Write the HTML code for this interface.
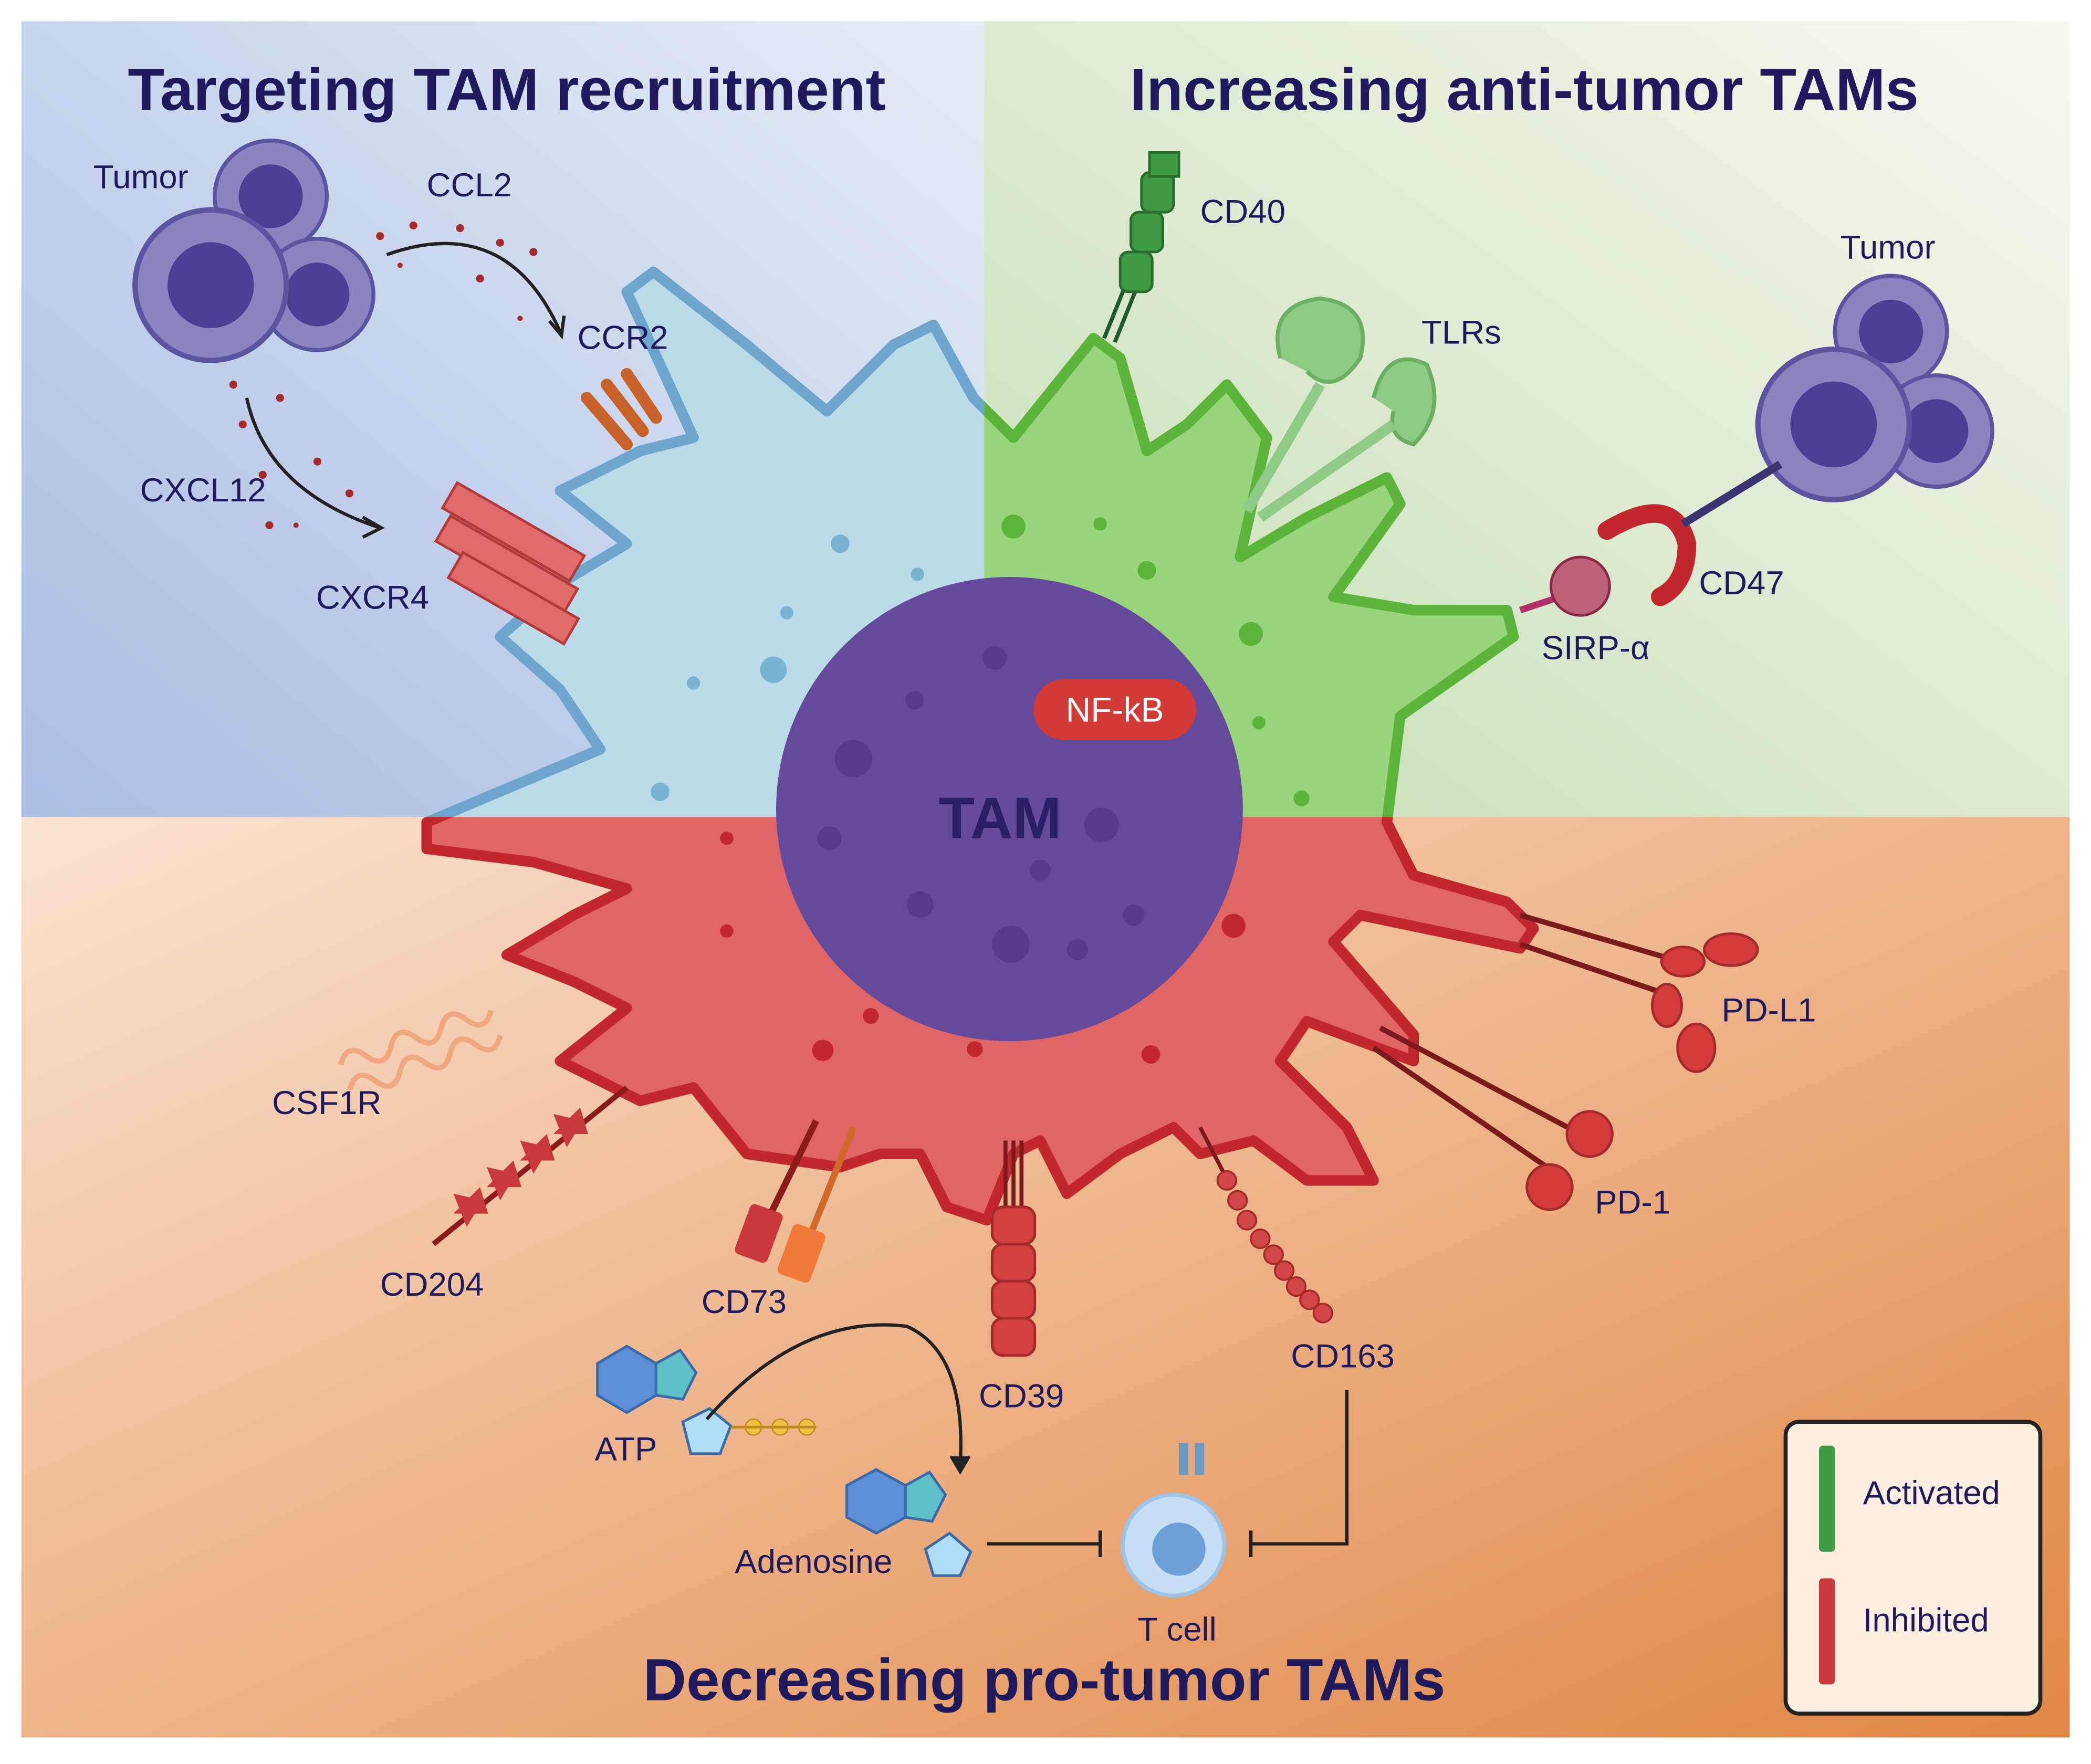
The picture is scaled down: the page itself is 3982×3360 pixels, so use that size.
<!DOCTYPE html>
<html><head><meta charset="utf-8"><style>
html,body{margin:0;padding:0;background:#fff}
svg{display:block}
text{font-family:"Liberation Sans",sans-serif}
</style></head><body>
<svg width="3982" height="3360" viewBox="0 0 1568 1330" preserveAspectRatio="none" xmlns="http://www.w3.org/2000/svg">
<defs>
<linearGradient id="gb" x1="0" y1="1" x2="1" y2="0"><stop offset="0" stop-color="#a9bde2"/><stop offset="1" stop-color="#e6ecf6"/></linearGradient>
<linearGradient id="gg" x1="0" y1="1" x2="1" y2="0"><stop offset="0" stop-color="#c6deb4"/><stop offset="1" stop-color="#f5f8f0"/></linearGradient>
<linearGradient id="go" x1="0" y1="0" x2="1" y2="1"><stop offset="0" stop-color="#f9e3d2"/><stop offset="0.5" stop-color="#eeb48a"/><stop offset="1" stop-color="#e08745"/></linearGradient>
<clipPath id="cb"><rect x="0" y="0" width="738" height="617"/></clipPath>
<clipPath id="cg"><rect x="738" y="0" width="900" height="617"/></clipPath>
<clipPath id="cr"><rect x="0" y="616" width="1600" height="800"/></clipPath>
<path id="cell" d="M320,620 L450,565 L420,520 L375,480 L420,440 L470,410 L420,370 L480,340 L520,330 L470,220 L490,205 L560,260 L620,310 L670,260 L700,245 L730,300 L760,330 L800,280 L820,255 L840,270 L860,340 L890,320 L920,290 L950,330 L930,420 L980,390 L1040,360 L1050,380 L1000,450 L1060,460 L1130,460 L1135,480 L1050,540 L1040,620 L1060,660 L1130,680 L1150,700 L1140,715 L1020,690 L1000,710 L1060,780 L1060,800 L980,770 L960,800 L1010,850 L1030,890 L980,890 L940,860 L900,870 L880,850 L840,870 L800,900 L780,860 L760,870 L740,920 L710,910 L690,870 L660,870 L630,880 L560,870 L520,820 L480,830 L420,800 L470,760 L430,740 L380,720 L430,690 L470,670 L400,650 L320,640 Z"/>
<g id="tumor"><circle cx="0" cy="0" r="42" fill="#8a84c0" stroke="#5b55a0" stroke-width="3"/><circle cx="0" cy="0" r="24" fill="#4b3f94"/></g>
</defs>
<rect width="1568" height="1330" fill="#fff"/>
<rect x="16" y="16" width="722" height="601" fill="url(#gb)"/>
<rect x="738" y="16" width="814" height="601" fill="url(#gg)"/>
<rect x="16" y="616" width="1536" height="694" fill="url(#go)"/>

<g clip-path="url(#cb)"><use href="#cell" fill="#bcdbe8" stroke="#6ea5cc" stroke-width="8" stroke-linejoin="round"/></g>
<g clip-path="url(#cg)"><use href="#cell" fill="#98d57c" stroke="#5cb43a" stroke-width="8" stroke-linejoin="round"/></g>
<g clip-path="url(#cr)"><use href="#cell" fill="#e06565" stroke="#c1272c" stroke-width="8" stroke-linejoin="round"/></g>
<g fill="#79b3d2"><circle cx="630" cy="410" r="7"/><circle cx="580" cy="505" r="10"/><circle cx="520" cy="515" r="5"/><circle cx="495" cy="597" r="7"/><circle cx="590" cy="462" r="5"/><circle cx="688" cy="433" r="5"/></g>
<g fill="#5cb43a"><circle cx="760" cy="397" r="9"/><circle cx="860" cy="430" r="7"/><circle cx="938" cy="478" r="9"/><circle cx="825" cy="395" r="5"/><circle cx="976" cy="602" r="6"/><circle cx="944" cy="545" r="5"/></g>
<g fill="#c1272c"><circle cx="545" cy="632" r="5"/><circle cx="545" cy="702" r="5"/><circle cx="617" cy="792" r="8"/><circle cx="653" cy="766" r="6"/><circle cx="731" cy="791" r="6"/><circle cx="863" cy="795" r="7"/><circle cx="925" cy="698" r="9"/></g>

<circle cx="757" cy="610" r="175" fill="#654a9c"/>
<g fill="#553c8a"><circle cx="640" cy="572" r="14"/><circle cx="690" cy="682" r="10"/><circle cx="758" cy="712" r="14"/><circle cx="826" cy="622" r="13"/><circle cx="746" cy="496" r="9"/><circle cx="850" cy="690" r="8"/><circle cx="780" cy="656" r="8"/><circle cx="622" cy="632" r="9"/><circle cx="686" cy="528" r="7"/><circle cx="808" cy="716" r="8"/></g>
<text x="750" y="632" font-size="44" font-weight="bold" fill="#2a1e66" text-anchor="middle">TAM</text>
<rect x="775" y="512" width="122" height="46" rx="23" fill="#d23a35"/>
<text x="836" y="544" font-size="26" fill="#fff" text-anchor="middle">NF-kB</text>

<text x="380" y="83" font-size="45" font-weight="bold" fill="#1f1a5e" text-anchor="middle">Targeting TAM recruitment</text>
<text x="1143" y="83" font-size="45" font-weight="bold" fill="#1f1a5e" text-anchor="middle">Increasing anti-tumor TAMs</text>
<text x="783" y="1282" font-size="45" font-weight="bold" fill="#1f1a5e" text-anchor="middle">Decreasing pro-tumor TAMs</text>

<!-- legend (drawn before text) -->
<rect x="1339" y="1072" width="191" height="220" rx="10" fill="#fcefe0" stroke="#222" stroke-width="3"/>
<g fill="#3f9a45"><rect x="1364" y="1090" width="12" height="80" rx="3"/></g>
<g fill="#c9383a"><rect x="1364" y="1190" width="12" height="80" rx="3"/></g>

<!-- tumors -->
<use href="#tumor" transform="translate(203,148)"/><use href="#tumor" transform="translate(238,222)"/><use href="#tumor" transform="translate(158,215) scale(1.35)"/>
<use href="#tumor" transform="translate(1418,250)"/><use href="#tumor" transform="translate(1452,325)"/><use href="#tumor" transform="translate(1375,320) scale(1.35)"/>
<g font-size="25" fill="#1f1a5e">
<text x="70" y="142">Tumor</text><text x="320" y="148">CCL2</text><text x="433" y="263">CCR2</text>
<text x="105" y="378">CXCL12</text><text x="237" y="459">CXCR4</text><text x="900" y="168">CD40</text>
<text x="1066" y="259">TLRs</text><text x="1380" y="195">Tumor</text><text x="1274" y="448">CD47</text>
<text x="1156" y="497">SIRP-α</text><text x="1291" y="770">PD-L1</text><text x="1196" y="915">PD-1</text>
<text x="204" y="840">CSF1R</text><text x="285" y="977">CD204</text><text x="526" y="990">CD73</text>
<text x="734" y="1061">CD39</text><text x="968" y="1031">CD163</text><text x="446" y="1101">ATP</text>
<text x="551" y="1186">Adenosine</text><text x="853" y="1237">T cell</text>
<text x="1397" y="1134">Activated</text><text x="1397" y="1230">Inhibited</text>
</g>
<!-- dots and arrows -->
<g fill="#a42a2e"><circle cx="285" cy="178" r="3"/><circle cx="310" cy="170" r="3"/><circle cx="345" cy="172" r="3"/><circle cx="375" cy="183" r="3"/><circle cx="400" cy="190" r="3"/><circle cx="300" cy="200" r="2"/><circle cx="360" cy="210" r="3"/><circle cx="390" cy="240" r="2"/><circle cx="175" cy="290" r="3"/><circle cx="182" cy="320" r="3"/><circle cx="210" cy="300" r="3"/><circle cx="238" cy="348" r="3"/><circle cx="262" cy="372" r="3"/><circle cx="202" cy="396" r="3"/><circle cx="222" cy="396" r="2"/><circle cx="197" cy="358" r="3"/></g>
<path d="M290,192 Q380,160 420,250" fill="none" stroke="#222" stroke-width="2.5"/><path d="M412,242 L421,253 L423,238" fill="none" stroke="#222" stroke-width="2.5"/>
<path d="M185,300 Q200,370 285,398" fill="none" stroke="#222" stroke-width="2.5"/><path d="M272,390 L286,398 L272,405" fill="none" stroke="#222" stroke-width="2.5"/>
<!-- receptors -->
<g stroke="#c9612a" stroke-width="9" stroke-linecap="round"><line x1="440" y1="300" x2="470" y2="335"/><line x1="455" y1="290" x2="482" y2="325"/><line x1="470" y1="282" x2="492" y2="315"/></g>
<g fill="#e06b6b" stroke="#b33a3a" stroke-width="2"><rect x="330" y="390" width="110" height="22" transform="rotate(30 385 401)"/><rect x="325" y="415" width="110" height="22" transform="rotate(30 380 426)"/><rect x="335" y="440" width="100" height="22" transform="rotate(30 385 451)"/></g>
<g stroke="#1f5a2a" stroke-width="3"><line x1="828" y1="255" x2="850" y2="200"/><line x1="836" y1="258" x2="858" y2="203"/></g>
<g fill="#3f9a45" stroke="#2a6e2e" stroke-width="2"><rect x="840" y="190" width="24" height="30" rx="6"/><rect x="848" y="160" width="24" height="30" rx="6"/><rect x="856" y="130" width="24" height="30" rx="6"/><rect x="862" y="115" width="22" height="18"/></g>
<g fill="#8fcb86" stroke="#6cae62" stroke-width="3"><path d="M960,270 Q950,230 990,225 Q1030,230 1020,270 Q1000,300 980,280"/><path d="M1030,300 Q1040,260 1070,275 Q1085,310 1060,335 Q1040,330 1045,310"/></g>
<path d="M935,385 L990,290 M945,390 L1045,320" stroke="#8fcb86" stroke-width="8"/>
<line x1="1140" y1="460" x2="1170" y2="450" stroke="#b0306a" stroke-width="5"/>
<circle cx="1185" cy="442" r="22" fill="#c0617a" stroke="#8a2a48" stroke-width="2"/>
<path d="M1205,400 Q1255,370 1265,410 Q1265,440 1245,450" fill="none" stroke="#c1272c" stroke-width="14" stroke-linecap="round"/>
<line x1="1262" y1="395" x2="1335" y2="350" stroke="#3a3570" stroke-width="6"/>
<g stroke="#7a1a1a" stroke-width="4"><line x1="1140" y1="690" x2="1260" y2="725"/><line x1="1140" y1="712" x2="1245" y2="748"/><line x1="1035" y1="775" x2="1185" y2="855"/><line x1="1030" y1="790" x2="1160" y2="880"/></g>
<g fill="#d43c3c" stroke="#a52a2a" stroke-width="2"><ellipse cx="1262" cy="725" rx="16" ry="11"/><ellipse cx="1298" cy="716" rx="20" ry="12"/><ellipse cx="1250" cy="758" rx="11" ry="16"/><ellipse cx="1272" cy="790" rx="14" ry="18"/><circle cx="1192" cy="855" r="17"/><circle cx="1162" cy="895" r="17"/></g>
<path d="M255,780 q10,-15 20,0 t20,0 t20,0 t20,0 t20,0 t20,0 M255,800 q10,-15 20,0 t20,0 t20,0 t20,0 t20,0 t20,0" fill="none" stroke="#f0a880" stroke-width="4" transform="rotate(-20 320 790)"/>
<line x1="325" y1="938" x2="470" y2="820" stroke="#8b1a1a" stroke-width="4"/>
<g fill="#c9383a"><path d="M340,915 l20,-20 l6,20z"/><path d="M365,895 l20,-20 l6,20z"/><path d="M390,875 l20,-20 l6,20z"/><path d="M415,855 l20,-20 l6,20z"/><path d="M350,925 l-10,-25 l22,5z"/><path d="M375,905 l-10,-25 l22,5z"/><path d="M400,885 l-10,-25 l22,5z"/><path d="M425,865 l-10,-25 l22,5z"/></g>
<line x1="612" y1="845" x2="578" y2="915" stroke="#8b1a1a" stroke-width="5"/><line x1="640" y1="850" x2="608" y2="930" stroke="#d06a2a" stroke-width="5"/>
<rect x="556" y="910" width="26" height="40" rx="4" fill="#c9383a" transform="rotate(20 569 930)"/><rect x="588" y="925" width="26" height="40" rx="4" fill="#ef7a3a" transform="rotate(20 601 945)"/>
<g stroke="#7a1a1a" stroke-width="3"><line x1="754" y1="860" x2="754" y2="910"/><line x1="760" y1="860" x2="760" y2="910"/><line x1="766" y1="860" x2="766" y2="910"/></g>
<g fill="#d24040" stroke="#a52a2a" stroke-width="2"><rect x="744" y="910" width="32" height="28" rx="8"/><rect x="744" y="938" width="32" height="28" rx="8"/><rect x="744" y="966" width="32" height="28" rx="8"/><rect x="744" y="994" width="32" height="28" rx="8"/></g>
<line x1="900" y1="850" x2="918" y2="885" stroke="#7a1a1a" stroke-width="3"/>
<g fill="#d24848" stroke="#a52a2a" stroke-width="1.5"><circle cx="920" cy="890" r="7"/><circle cx="928" cy="905" r="7"/><circle cx="935" cy="920" r="7"/><circle cx="945" cy="934" r="7"/><circle cx="955" cy="946" r="7"/><circle cx="963" cy="958" r="7"/><circle cx="972" cy="970" r="7"/><circle cx="982" cy="980" r="7"/><circle cx="992" cy="990" r="7"/></g>
<!-- ATP -->
<g stroke="#3a6aa8" stroke-width="2"><polygon points="448,1028 470,1015 492,1028 492,1052 470,1065 448,1052" fill="#5b8fd8"/><polygon points="492,1028 510,1018 522,1035 512,1055 492,1052" fill="#60c0c8"/><polygon points="512,1072 532,1062 548,1075 540,1096 518,1096" fill="#b0dcf5"/></g>
<g fill="#f0c040" stroke="#c08a20"><circle cx="565" cy="1076" r="6"/><circle cx="585" cy="1076" r="6"/><circle cx="605" cy="1076" r="6"/></g>
<line x1="548" y1="1076" x2="612" y2="1076" stroke="#c08a20" stroke-width="2"/>
<g stroke="#3a6aa8" stroke-width="2"><polygon points="635,1120 657,1108 679,1120 679,1144 657,1156 635,1144" fill="#5b8fd8"/><polygon points="679,1120 697,1110 709,1127 699,1147 679,1144" fill="#60c0c8"/><polygon points="694,1168 712,1156 728,1170 720,1188 700,1188" fill="#b0dcf5"/></g>
<path d="M530,1070 Q600,990 680,1000 Q725,1020 720,1105" fill="none" stroke="#222" stroke-width="2.5"/><path d="M713,1098 L720,1110 L727,1098" fill="#222" stroke="#222" stroke-width="2"/>
<path d="M740,1164 L825,1164 M825,1154 L825,1174" stroke="#222" stroke-width="2.5"/>
<path d="M1010,1048 L1010,1164 L938,1164 M938,1154 L938,1174" fill="none" stroke="#222" stroke-width="2.5"/>
<circle cx="880" cy="1165" r="38" fill="#c6dff5" stroke="#9cc4e8" stroke-width="3"/><circle cx="884" cy="1168" r="20" fill="#6d9fd8"/>
<g fill="#6a9ac4"><rect x="884" y="1088" width="7" height="24"/><rect x="896" y="1088" width="7" height="24"/></g>
</svg>
</body></html>
